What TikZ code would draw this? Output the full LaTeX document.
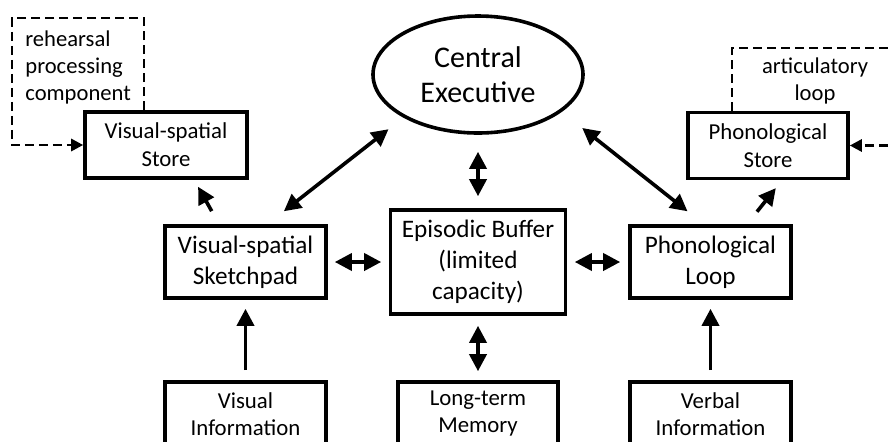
\documentclass[tikz,border=0pt]{standalone}
\usepackage{fontspec}
\setmainfont{Carlito}
\usetikzlibrary{arrows.meta, shapes.geometric}

\begin{document}
\begin{tikzpicture}[x=0.5pt, y=-0.5pt,
    box/.style={draw, line width=1.8pt, align=center, inner sep=0pt, minimum width=80.5pt, minimum height=36pt, font=\fontsize{12.6}{15.5}\selectfont},
    smallbox/.style={draw, line width=1.8pt, align=center, inner sep=0pt, minimum width=81pt, minimum height=33pt, font=\fontsize{11.4}{14}\selectfont},
    note/.style={inner sep=0pt, font=\fontsize{11.3}{13.5}\selectfont},
    arr/.style={line width=1.8pt, -{Triangle[length=8.5pt, width=8.5pt]}},
    darr/.style={line width=1.8pt, {Triangle[length=8.5pt, width=8.5pt]}-{Triangle[length=8.5pt, width=8.5pt]}},
    dasharr/.style={line width=1.4pt, dash pattern=on 4.5pt off 2.5pt, -{Triangle[length=6pt, width=6pt]}}]
    \useasboundingbox (0,0) rectangle (889,441);
    \clip (0,0) rectangle (889,441);

    % Central executive
    \node[ellipse, draw, line width=1.8pt, minimum width=105pt, minimum height=58.5pt, inner sep=0pt, align=center, font=\fontsize{15}{17.5}\selectfont] (ce) at (478,74.5) {Central\\Executive};

    % Stores
    \node[smallbox] (vss) at (166,145) {Visual-spatial\\Store};
    \node[smallbox, minimum width=80pt] (phs) at (768,145.5) {Phonological\\Store};

    % Middle row
    \node[box] (sketch) at (245.5,262) {Visual-spatial\\Sketchpad};
    \node[box, minimum width=87.5pt, minimum height=52pt] (buffer) at (478,262) {Episodic Buffer\\(limited\\capacity)};
    \node[box] (loop) at (710.5,262) {Phonological\\Loop};

    % Inputs
    \node[smallbox, minimum width=80.5pt, minimum height=32pt, font=\fontsize{11.4}{13.5}\selectfont] (vis) at (245.5,414) {Visual\\Information};
    \node[smallbox, minimum width=80pt, minimum height=32pt, font=\fontsize{11.4}{13.5}\selectfont] (ltm) at (478,414) {Long-term\\Memory};
    \node[smallbox, minimum width=80.5pt, minimum height=32pt, font=\fontsize{11.4}{13.5}\selectfont] (verbal) at (710.5,414) {Verbal\\Information};

    % Links
    \draw[darr, shorten <=9.4pt, shorten >=10.5pt] (ce.210) -- (sketch.60);
    \draw[darr, shorten <=13pt, shorten >=10.4pt] (ce.336) -- (loop.100);
    \draw[darr, shorten <=8.5pt, shorten >=6pt] (ce) -- (buffer);
    \draw[darr, shorten <=3.5pt, shorten >=3.75pt] (sketch) -- (buffer);
    \draw[darr, shorten <=3.75pt, shorten >=4pt] (buffer) -- (loop);
    \draw[darr, shorten <=5pt, shorten >=4.5pt] (buffer) -- (ltm);
    \draw[arr, shorten <=5pt, shorten >=4.5pt] (vis) -- (sketch);
    \draw[arr, shorten <=5pt, shorten >=4.5pt] (verbal) -- (loop);
    \draw[arr, shorten <=7.5pt, shorten >=4pt] (sketch.125) -- (vss.-51);
    \draw[arr, shorten <=8pt, shorten >=5pt] (loop.46) -- (phs.-68);

    % Rehearsal loops
    \coordinate (rh1) at (144,18);
    \coordinate (rh2) at (12,18);
    \draw[dasharr] (vss.north -| rh1) -- (rh1) -- (rh2) |- (vss.west);
    \node[note, anchor=west, align=left] (reh) at (25,67) {rehearsal\\processing\\component};

    \coordinate (ar1) at (732,48);
    \coordinate (ar2) at (905,48);
    \draw[dasharr] (phs.north -| ar1) -- (ar1) -- (ar2) |- (phs.east);
    \node[note, align=center] (art) at (815,81) {articulatory\\loop};
\end{tikzpicture}
\end{document}
